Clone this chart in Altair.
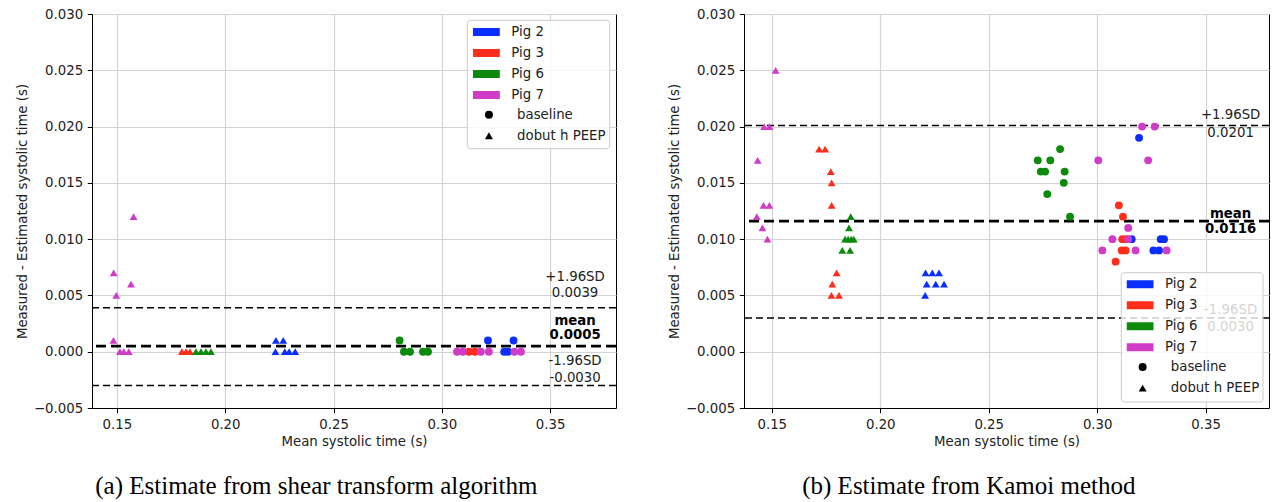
import altair as alt
import pandas as pd

pigs = ["Pig 2", "Pig 3", "Pig 6", "Pig 7"]
conds = ["baseline", "dobut h PEEP"]
pig_colors = ["#0a2eff", "#ff2d1a", "#0b8a0b", "#d03cc8"]
shapes = ["circle", "triangle-up"]

x_ticks = [0.15, 0.20, 0.25, 0.30, 0.35]
y_ticks = [-0.005, 0.0, 0.005, 0.010, 0.015, 0.020, 0.025, 0.030]

# ---------- panel (a): shear transform algorithm ----------
a_p2_base_x = [0.3213, 0.3331, 0.3288, 0.3305]
a_p2_base_y = [0.001, 0.001, 0.0, 0.0]
a_p2_dob_x = [0.2234, 0.2268, 0.2232, 0.2275, 0.2295, 0.2323]
a_p2_dob_y = [0.001, 0.001, 0.0, 0.0, 0.0, 0.0]
a_p3_base_x = [0.3125, 0.3153]
a_p3_base_y = [0.0, 0.0]
a_p3_dob_x = [0.1800, 0.1819, 0.1837]
a_p3_dob_y = [0.0, 0.0, 0.0]
a_p6_base_x = [0.2805, 0.2825, 0.2853, 0.2913, 0.2936]
a_p6_base_y = [0.001, 0.0, 0.0, 0.0, 0.0]
a_p6_dob_x = [0.1865, 0.1888, 0.1911, 0.1934]
a_p6_dob_y = [0.0, 0.0, 0.0, 0.0]
a_p7_base_x = [0.3070, 0.3097, 0.3180, 0.3217, 0.3335, 0.3365]
a_p7_base_y = [0.0, 0.0, 0.0, 0.0, 0.0, 0.0]
a_p7_dob_x = [0.1577, 0.1485, 0.1497, 0.1565, 0.1484, 0.1514, 0.1532, 0.1555]
a_p7_dob_y = [0.012, 0.007, 0.005, 0.006, 0.001, 0.0, 0.0, 0.0]

a_line_y = [0.0039, -0.0030]
a_mean_y = [0.0005]
a_label_text = ["+1.96SD", "0.0039", "-1.96SD", "-0.0030"]
a_label_y = [0.00666, 0.00519, -0.00083, -0.00231]
a_bold_text = ["mean", "0.0005"]
a_bold_y = [0.00273, 0.00148]
label_x = 0.3615

# ---------- panel (b): Kamoi method ----------
b_p2_base_x = [0.3193, 0.3159, 0.3293, 0.3308, 0.3259, 0.3285]
b_p2_base_y = [0.019, 0.010, 0.010, 0.010, 0.009, 0.009]
b_p2_dob_x = [0.2209, 0.2240, 0.2271, 0.2214, 0.2256, 0.2294, 0.2207]
b_p2_dob_y = [0.007, 0.007, 0.007, 0.006, 0.006, 0.006, 0.005]
b_p3_base_x = [0.3100, 0.3119, 0.3116, 0.3134, 0.3113, 0.3131, 0.3085]
b_p3_base_y = [0.013, 0.012, 0.010, 0.010, 0.009, 0.009, 0.008]
b_p3_dob_x = [0.1718, 0.1746, 0.1772, 0.1776, 0.1776, 0.1799, 0.1779, 0.1775, 0.1810]
b_p3_dob_y = [0.018, 0.018, 0.016, 0.015, 0.013, 0.007, 0.006, 0.005, 0.005]
b_p6_base_x = [0.2829, 0.2726, 0.2784, 0.2740, 0.2760, 0.2850, 0.2846, 0.2770, 0.2875]
b_p6_base_y = [0.018, 0.017, 0.017, 0.016, 0.016, 0.016, 0.015, 0.014, 0.012]
b_p6_dob_x = [0.1864, 0.1856, 0.1838, 0.1852, 0.1866, 0.1878, 0.1825, 0.1861]
b_p6_dob_y = [0.012, 0.011, 0.010, 0.010, 0.010, 0.010, 0.009, 0.009]
b_p7_base_x = [0.3207, 0.3265, 0.3005, 0.3235, 0.3143, 0.3070, 0.3143, 0.3024, 0.3177, 0.3320]
b_p7_base_y = [0.020, 0.020, 0.017, 0.017, 0.011, 0.010, 0.010, 0.009, 0.009, 0.009]
b_p7_dob_x = [0.1518, 0.1465, 0.1490, 0.1435, 0.1462, 0.1489, 0.1431, 0.1457, 0.1480]
b_p7_dob_y = [0.025, 0.020, 0.020, 0.017, 0.013, 0.013, 0.012, 0.011, 0.010]

b_line_y = [0.0201, 0.0030]
b_mean_y = [0.0116]
b_label_text = ["+1.96SD", "0.0201", "-1.96SD", "0.0030"]
b_label_y = [0.02102, 0.01945, 0.00368, 0.00219]
b_bold_text = ["mean", "0.0116"]
b_bold_y = [0.0122, 0.01087]

FONT = "DejaVu Sans"
FS = 13.3


def rows(groups):
    out = []
    for pig, cond, xs, ys in groups:
        for xv, yv in zip(xs, ys):
            out.append({"x": xv, "y": yv, "pig": pig, "cond": cond})
    return pd.DataFrame(out)


a_df = rows([
    ("Pig 2", "baseline", a_p2_base_x, a_p2_base_y),
    ("Pig 2", "dobut h PEEP", a_p2_dob_x, a_p2_dob_y),
    ("Pig 3", "baseline", a_p3_base_x, a_p3_base_y),
    ("Pig 3", "dobut h PEEP", a_p3_dob_x, a_p3_dob_y),
    ("Pig 6", "baseline", a_p6_base_x, a_p6_base_y),
    ("Pig 6", "dobut h PEEP", a_p6_dob_x, a_p6_dob_y),
    ("Pig 7", "baseline", a_p7_base_x, a_p7_base_y),
    ("Pig 7", "dobut h PEEP", a_p7_dob_x, a_p7_dob_y),
])
b_df = rows([
    ("Pig 2", "baseline", b_p2_base_x, b_p2_base_y),
    ("Pig 2", "dobut h PEEP", b_p2_dob_x, b_p2_dob_y),
    ("Pig 3", "baseline", b_p3_base_x, b_p3_base_y),
    ("Pig 3", "dobut h PEEP", b_p3_dob_x, b_p3_dob_y),
    ("Pig 6", "baseline", b_p6_base_x, b_p6_base_y),
    ("Pig 6", "dobut h PEEP", b_p6_dob_x, b_p6_dob_y),
    ("Pig 7", "baseline", b_p7_base_x, b_p7_base_y),
    ("Pig 7", "dobut h PEEP", b_p7_dob_x, b_p7_dob_y),
])


def panel(df, line_y, mean_y, lab_t, lab_y, bold_t, bold_y, caption, x_dom,
          leg_x, leg_y, frame, width):
    xs = alt.Scale(domain=x_dom, nice=False, zero=False)
    ys = alt.Scale(domain=[-0.005, 0.030], nice=False, zero=False)
    xax = alt.Axis(values=x_ticks, format=".2f", title="Mean systolic time (s)",
                   grid=True)
    yax = alt.Axis(values=y_ticks, title="Measured - Estimated systolic time (s)",
                   labelExpr="replace(format(datum.value, '.3f'), '-', '\u2212')",
                   grid=True)
    row_h = 18.7
    pts = alt.Chart(df).mark_point(filled=True, opacity=1, size=62, strokeWidth=0).encode(
        x=alt.X("x:Q", scale=xs, axis=xax),
        y=alt.Y("y:Q", scale=ys, axis=yax),
        color=alt.Color("pig:N", scale=alt.Scale(domain=pigs, range=pig_colors),
                        legend=alt.Legend(orient="none", legendX=leg_x - 13.5,
                                          legendY=leg_y - row_h / 2, title=None,
                                          symbolType="M-1,-0.3H1V0.3H-1Z",
                                          symbolSize=729, clipHeight=row_h,
                                          rowPadding=2, labelOffset=11.5,
                                          labelFont=FONT, labelFontSize=FS,
                                          labelColor="#222222",
                                          padding=0, symbolStrokeWidth=0,
                                          symbolOpacity=1)),
        shape=alt.Shape("cond:N", scale=alt.Scale(domain=conds, range=shapes),
                        legend=alt.Legend(orient="none", legendX=leg_x - 4,
                                          legendY=leg_y + 4 * (row_h + 2) - row_h / 2,
                                          title=None, symbolSize=64,
                                          clipHeight=row_h, rowPadding=2,
                                          labelOffset=21.5, labelFont=FONT,
                                          labelFontSize=FS, labelColor="#222222",
                                          padding=0, symbolFillColor="black",
                                          symbolStrokeWidth=0, symbolOpacity=1)),
        order=alt.Order("idx:Q"),
    ).transform_window(idx="row_number()")

    thin = alt.Chart(pd.DataFrame({"v": line_y})).mark_rule(
        color="black", strokeWidth=1.6, strokeDash=[7, 4]).encode(y=alt.Y("v:Q", scale=ys))
    thick = alt.Chart(pd.DataFrame({"v": mean_y})).mark_rule(
        color="black", strokeWidth=2.6, strokeDash=[10, 5]).encode(y=alt.Y("v:Q", scale=ys))
    txt = alt.Chart(pd.DataFrame({"t": lab_t, "v": lab_y, "u": [label_x] * len(lab_t)})).mark_text(
        font=FONT, fontSize=FS, color="#222222", align="center", baseline="middle").encode(
        x=alt.X("u:Q", scale=xs), y=alt.Y("v:Q", scale=ys), text="t:N")
    btxt = alt.Chart(pd.DataFrame({"t": bold_t, "v": bold_y, "u": [label_x] * len(bold_t)})).mark_text(
        font=FONT, fontSize=FS, fontWeight="bold", color="black", align="center",
        baseline="middle").encode(
        x=alt.X("u:Q", scale=xs), y=alt.Y("v:Q", scale=ys), text="t:N")
    box = alt.Chart(pd.DataFrame({"k": [0]})).mark_rect(
        fill="white", fillOpacity=0.8, stroke="#cccccc", strokeWidth=1, cornerRadius=3).encode(
        x=alt.value(frame[0]), x2=alt.value(frame[1]),
        y=alt.value(frame[2]), y2=alt.value(frame[3]))

    return alt.layer(thin, thick, txt, btxt, pts, box).properties(
        width=width, height=394,
        title=alt.TitleParams(text=caption, orient="bottom", anchor="middle",
                              frame="bounds", font="Liberation Serif", fontSize=25,
                              fontWeight="normal", color="black", offset=26))


left = panel(a_df, a_line_y, a_mean_y, a_label_text, a_label_y, a_bold_text, a_bold_y,
             "(a) Estimate from shear transform algorithm", [0.1385, 0.3804],
             394.3, 18, [375.3, 517.7, 6.3, 134.7], 524)
right = panel(b_df, b_line_y, b_mean_y, b_label_text, b_label_y, b_bold_text, b_bold_y,
              "(b) Estimate from Kamoi method", [0.1372, 0.3792],
              396, 270.3, [377.3, 519, 258.7, 388], 525)

chart = alt.hconcat(left, right, spacing=48).resolve_scale(
    color="independent", shape="independent"
).properties(
    padding={"left": 14, "top": 6, "right": 2, "bottom": 2}
).configure_view(
    stroke="black", strokeWidth=1
).configure_axis(
    domainColor="black", tickColor="black", labelColor="#222222", titleColor="#222222",
    labelFont=FONT, titleFont=FONT, labelFontSize=FS, titleFontSize=FS,
    titleFontWeight="normal", gridColor="#d4d4d4", gridWidth=1.2, tickSize=4.7,
    labelPadding=4.7, titlePadding=4
)

chart.save("out.html", embed_options={"renderer": "svg", "actions": False})
